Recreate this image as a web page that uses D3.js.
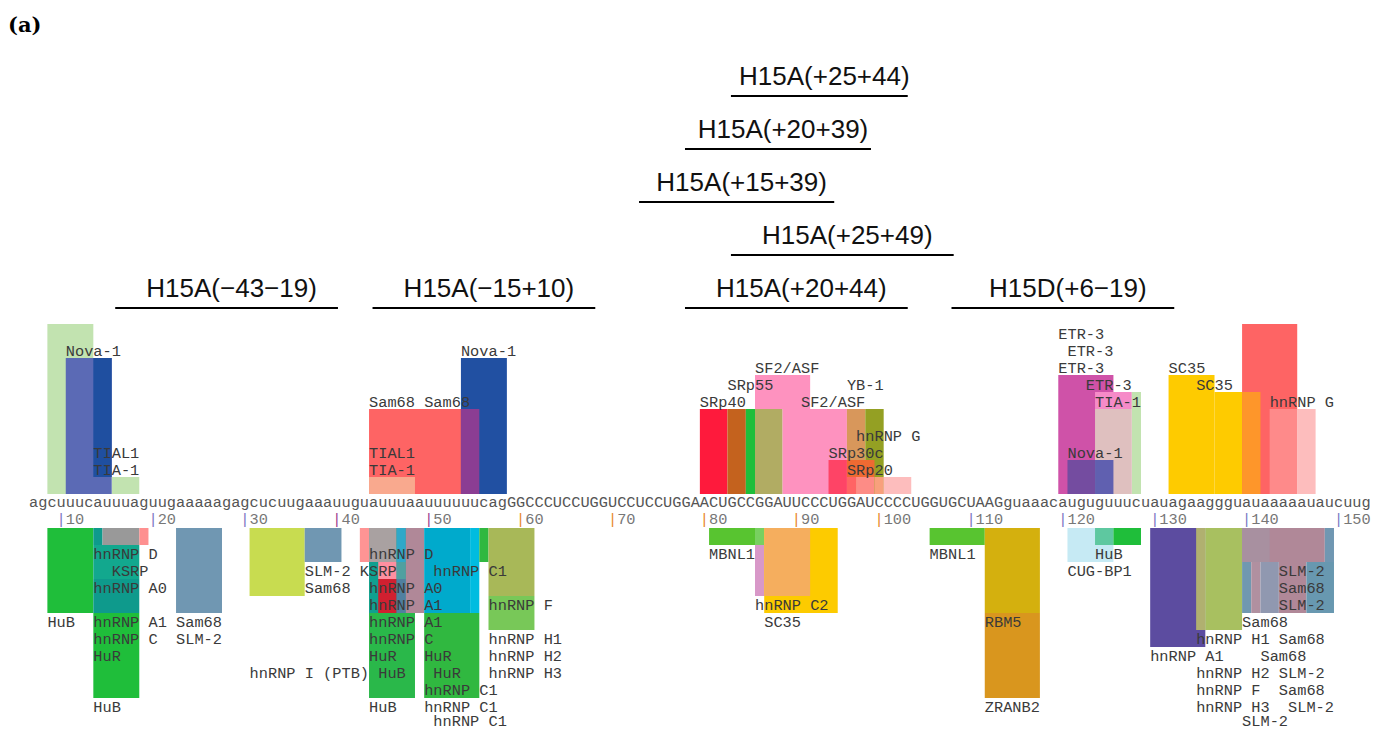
<!DOCTYPE html>
<html>
<head>
<meta charset="utf-8">
<script src="https://cdn.jsdelivr.net/npm/d3@7"></script>
<style>
  body { margin: 0; background: #fff; }
  svg { display: block; }
  .seq { font-family: "Courier New", "Liberation Mono", monospace; font-size: 15.3px; fill: #555; }
  .lbl { font-family: "Courier New", "Liberation Mono", monospace; font-size: 15.3px; fill: #3a3a3a; }
  .tick { font-family: "Courier New", "Liberation Mono", monospace; font-size: 15.3px; fill: #777; }
  .oligo { font-family: "Liberation Sans", Arial, sans-serif; font-size: 26px; fill: #111; }
</style>
</head>
<body>
<svg id="chart" width="1388" height="731"></svg>
<script>
'use strict';

// Sequence (intron 14 end, exon 15 in capitals, intron 15 start)
const sequence = 'agcuuucauuuaguugaaaaagagcucuugaaauuguauuuaauuuuuucag' +
                 'GGCCCUCCUGGUCCUCCUGGAACUGCCGGAUUCCCUGGAUCCCCUGGUGCUAAG' +
                 'guaaacauguguuucuauagaaggguauaaaaauaucuug';

// Ruler ticks
const tickLabels = [10, 20, 30, 40, 50, 60, 70, 80, 90, 100, 110, 120, 130, 140, 150];
const tickColors = ['#7b78c4', '#7b78c4', '#7b78c4', '#a03c90', '#a03c90',
                    '#e8882a', '#e8882a', '#e8882a', '#e8882a', '#e8882a',
                    '#7b78c4', '#7b78c4', '#7b78c4', '#7b78c4', '#7b78c4'];

// Antisense oligos: name, first nt, last nt (sequence index), stacking row
const oligoNames = ['H15A(\u221243\u221219)', 'H15A(\u221215+10)', 'H15A(+20+44)', 'H15D(+6\u221219)',
                    'H15A(+25+49)', 'H15A(+15+39)', 'H15A(+20+39)', 'H15A(+25+44)'];
const oligoStarts = [9, 37, 71, 100, 76, 66, 71, 76];
const oligoEnds = [33, 61, 95, 124, 100, 87, 91, 95];
const oligoRows = [0, 0, 0, 0, 1, 2, 3, 4];

// Enhancer sites above the sequence: [start, end, low score, high score, colour]
const upperBoxes = [
    [2, 7, 0, 10, '#c2e3b0'], [9, 12, 0, 1, '#c2e3b0'], [4, 9, 0, 8, '#5b6ab5'], [7, 9, 1, 8, '#1f4fa0'],
    [37, 49, 0, 5, '#fe6464'], [37, 42, 0, 1, '#f9a98e'], [47, 52, 0, 8, '#2150a2'], [47, 49, 0, 5, '#8b3d93'],
    [73, 76, 0, 5, '#fe1a3c'], [76, 78, 0, 5, '#c4621e'], [78, 79, 0, 5, '#1fbe3a'], [79, 82, 0, 5, '#b1ac63'],
    [79, 85, 5, 7, '#fe92bf'], [82, 89, 0, 5, '#fe92bf'], [89, 91, 0, 5, '#d8975b'], [91, 93, 0, 5, '#94a023'],
    [87, 89, 0, 2, '#fe4466'], [89, 92, 1, 2, '#ef6a32'],
    [89, 90, 0, 1, '#ff6464'], [90, 92, 0, 1, '#fd8c86'], [92, 93, 0, 1, '#f8a07c'], [93, 96, 0, 1, '#fdbdbd'],
    [112, 118, 0, 7, '#cf52a8'], [116, 120, 5, 6, '#f68bc8'], [120, 121, 0, 6, '#c2e3b0'],
    [116, 120, 0, 5, '#dfc0bf'], [116, 118, 0, 2, '#6060b0'], [113, 116, 0, 2, '#744ca0'],
    [124, 129, 0, 7, '#fecb00'], [129, 132, 0, 6, '#fecb00'], [132, 138, 0, 10, '#fe6464'],
    [132, 134, 0, 6, '#fe962a'], [135, 138, 0, 5, '#fe8a8a'], [138, 140, 0, 5, '#fdbdbd']
];
const upperLabels = [
    ['Nova-1', 4, 8], ['TIAL1', 7, 2], ['TIA-1', 7, 1],
    ['Sam68', 37, 5], ['Sam68', 43, 5], ['Nova-1', 47, 8], ['TIAL1', 37, 2], ['TIA-1', 37, 1],
    ['SRp40', 73, 5], ['SRp55', 76, 6], ['SF2/ASF', 79, 7], ['SF2/ASF', 84, 5], ['YB-1', 89, 6],
    ['hnRNP G', 90, 3], ['SRp30c', 87, 2], ['SRp20', 89, 1],
    ['ETR-3', 112, 9], ['ETR-3', 113, 8], ['ETR-3', 112, 7], ['ETR-3', 115, 6], ['TIA-1', 116, 5], ['Nova-1', 113, 2],
    ['SC35', 124, 7], ['SC35', 127, 6], ['hnRNP G', 135, 5]
];

// Silencer sites below the sequence
const lowerBoxes = [
    [2, 7, 0, 5, '#1fbe3a'], [7, 12, 5, 10, '#1fbe3a'], [7, 12, 3, 5, '#0e9a8c'], [7, 12, 1, 3, '#12a88e'],
    [7, 8, 0, 1, '#0e9a8c'], [8, 12, 0, 1, '#999999'], [12, 13, 0, 1, '#fe9090'], [16, 21, 0, 5, '#7097b2'],
    [24, 30, 0, 4, '#c8dc50'], [30, 34, 0, 2, '#7097b2'], [36, 37, 0, 2, '#fe9494'],
    [37, 42, 5, 10, '#2ab84a'], [43, 49, 5, 10, '#30b840'],
    [37, 42, 0, 5, '#10a090'], [37, 40, 0, 2, '#a9a1a1'], [38, 40, 2, 3, '#fe8fa0'], [38, 40, 3, 5, '#d02030'],
    [40, 41, 0, 2, '#30a8c8'], [40, 41, 2, 3, '#50a0a0'], [40, 41, 3, 5, '#5080a0'],
    [41, 43, 0, 5, '#b08898'], [43, 48, 0, 5, '#00aacc'], [48, 49, 0, 5, '#00bce0'],
    [49, 50, 0, 2, '#30b840'], [50, 55, 0, 4, '#a8b858'], [50, 55, 4, 6, '#78c858'],
    [74, 79, 0, 1, '#58c430'], [79, 80, 0, 1, '#78d060'], [79, 80, 1, 4, '#d898c8'],
    [80, 88, 0, 5, '#fdcb00'], [80, 85, 0, 4, '#f5ae5e'],
    [98, 104, 0, 1, '#58c430'], [104, 110, 0, 5, '#d4b00e'], [104, 110, 5, 10, '#d9961e'],
    [113, 118, 0, 2, '#c6eaf4'], [116, 118, 0, 1, '#5ec8a0'], [118, 121, 0, 1, '#1fbe3a'],
    [122, 128, 0, 7, '#5c4ca0'], [127, 128, 0, 6, '#b0b070'], [128, 132, 0, 6, '#a8c060'],
    [132, 141, 0, 2, '#b08898'], [132, 135, 0, 2, '#a890a0'],
    [132, 133, 2, 5, '#7098b0'], [133, 134, 2, 5, '#b090a0'], [134, 136, 2, 5, '#9098b0'],
    [136, 139, 2, 5, '#b08898'], [139, 142, 2, 5, '#6898b0'], [141, 142, 0, 2, '#7097b2']
];
const lowerLabels = [
    ['hnRNP D', 7, 1], ['KSRP', 9, 2], ['hnRNP A0', 7, 3], ['HuB', 2, 5], ['hnRNP A1', 7, 5], ['Sam68', 16, 5],
    ['hnRNP C', 7, 6], ['SLM-2', 16, 6], ['HuR', 7, 7], ['HuB', 7, 10],
    ['SLM-2', 30, 2], ['Sam68', 30, 3], ['hnRNP I (PTB)', 24, 8], ['KSRP', 36, 2], ['hnRNP D', 37, 1],
    ['hnRNP C1', 44, 2], ['hnRNP A0', 37, 3], ['hnRNP A1', 37, 4], ['hnRNP F', 50, 4], ['hnRNP A1', 37, 5],
    ['hnRNP C', 37, 6], ['hnRNP H1', 50, 6], ['HuR', 37, 7], ['HuR', 43, 7], ['hnRNP H2', 50, 7],
    ['HuB', 38, 8], ['HuR', 44, 8], ['hnRNP H3', 50, 8], ['hnRNP C1', 43, 9], ['HuB', 37, 10],
    ['hnRNP C1', 43, 10], ['hnRNP C1', 44, 10.85],
    ['MBNL1', 74, 1], ['hnRNP C2', 79, 4], ['SC35', 80, 5],
    ['MBNL1', 98, 1], ['RBM5', 104, 5], ['ZRANB2', 104, 10], ['HuB', 116, 1], ['CUG-BP1', 113, 2],
    ['SLM-2', 136, 2], ['Sam68', 136, 3], ['SLM-2', 136, 4], ['Sam68', 132, 5], ['hnRNP H1', 127, 6],
    ['Sam68', 136, 6], ['hnRNP A1', 122, 7], ['Sam68', 134, 7], ['hnRNP H2', 127, 8], ['SLM-2', 136, 8],
    ['hnRNP F', 127, 9], ['Sam68', 136, 9], ['hnRNP H3', 127, 10], ['SLM-2', 137, 10], ['SLM-2', 132, 10.85]
];

// -----------------------------------------------------
// Scales

const x = d3.scaleLinear().domain([0, sequence.length]).range([29, 29 + sequence.length * 9.19]);
const yUp = d3.scaleLinear().domain([0, 10]).range([494, 324]);
const yDown = d3.scaleLinear().domain([0, 10]).range([528, 698]);
const yOligo = d3.scaleLinear().domain([0, 4]).range([308, 96]);

const svg = d3.select('#chart');

svg.append('text')
   .attr('x', 8)
   .attr('y', 32)
   .style('font-family', '"DejaVu Serif", serif')
   .style('font-weight', 'bold')
   .style('font-size', '21px')
   .text('(a)');

// Oligo bars with their names
const oligos = oligoNames.map((name, i) => ({name, start: oligoStarts[i], end: oligoEnds[i], row: oligoRows[i]}));
const og = svg.append('g');
og.selectAll('line')
  .data(oligos)
  .enter()
  .append('line')
    .attr('x1', d => x(d.start) + 3.5)
    .attr('x2', d => x(d.end + 1) - 3.5)
    .attr('y1', d => yOligo(d.row))
    .attr('y2', d => yOligo(d.row))
    .attr('stroke', '#000')
    .attr('stroke-width', 2);
og.selectAll('text')
  .data(oligos)
  .enter()
  .append('text')
    .attr('class', 'oligo')
    .attr('x', d => (x(d.start) + x(d.end + 1)) / 2 + 5)
    .attr('y', d => yOligo(d.row) - 11)
    .attr('text-anchor', 'middle')
    .text(d => d.name);

// Binding site boxes
function drawBoxes(boxes, y) {
    svg.append('g')
       .selectAll('rect')
       .data(boxes)
       .enter()
       .append('rect')
         .attr('x', d => x(d[0]))
         .attr('width', d => x(d[1]) - x(d[0]))
         .attr('y', d => Math.min(y(d[2]), y(d[3])))
         .attr('height', d => Math.abs(y(d[3]) - y(d[2])))
         .attr('fill', d => d[4]);
}
drawBoxes(upperBoxes, yUp);
drawBoxes(lowerBoxes, yDown);

function drawLabels(labels, yPos) {
    svg.append('g')
       .selectAll('text')
       .data(labels)
       .enter()
       .append('text')
         .attr('class', 'lbl')
         .attr('x', d => x(d[1]))
         .attr('y', d => yPos(d[2]))
         .attr('textLength', d => x(d[1] + d[0].length) - x(d[1]))
         .attr('xml:space', 'preserve')
         .text(d => d[0]);
}
drawLabels(upperLabels, l => yUp(l) - 2);
drawLabels(lowerLabels, l => yDown(l) + 14);

// Sequence, one glyph per cell
svg.append('g')
   .selectAll('text')
   .data(sequence.split(''))
   .enter()
   .append('text')
     .attr('class', 'seq')
     .attr('x', (d, i) => x(i + 0.5))
     .attr('y', 507)
     .attr('text-anchor', 'middle')
     .text(d => d);

// Ruler: the original output slips one cell from 100 on
const tickIndex = n => n - 7 - (n >= 100 ? 1 : 0);
const tg = svg.append('g')
   .selectAll('g')
   .data(tickLabels)
   .enter()
   .append('text')
     .attr('class', 'tick')
     .attr('x', d => x(tickIndex(d)))
     .attr('y', 524);
tg.append('tspan')
  .attr('fill', (d, i) => tickColors[i])
  .text('|');
tg.append('tspan').text(d => d);
</script>
</body>
</html>
